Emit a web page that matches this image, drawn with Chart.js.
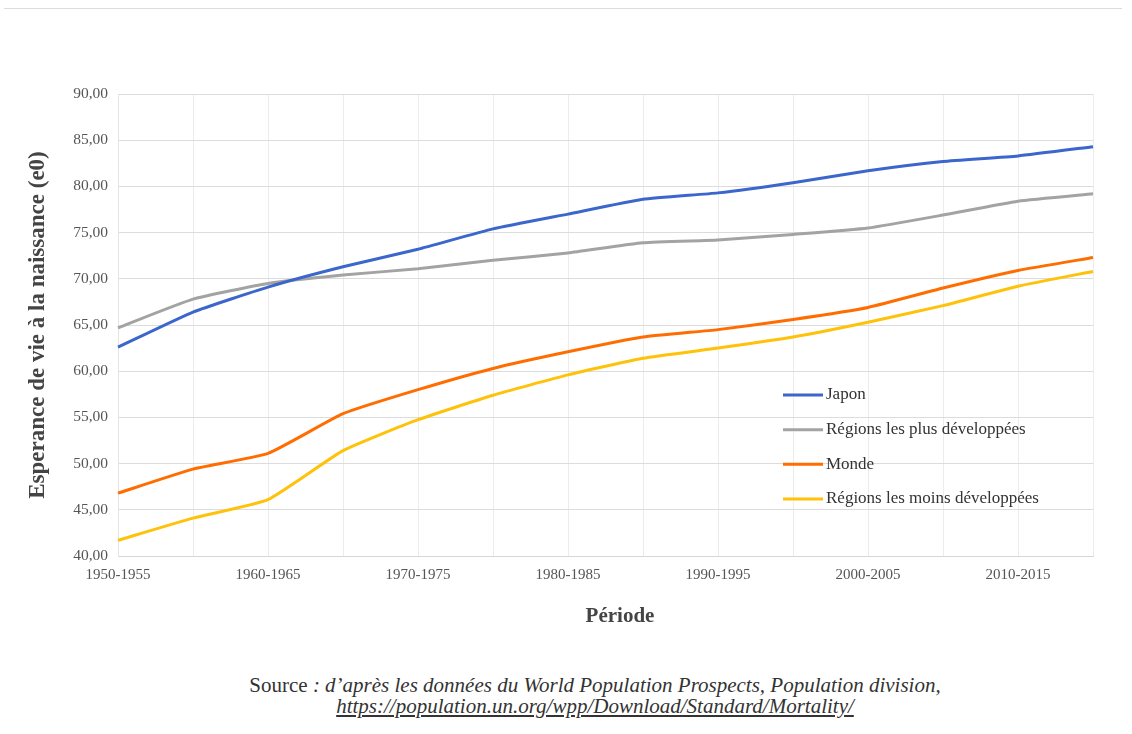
<!DOCTYPE html>
<html>
<head>
<meta charset="utf-8">
<script src="https://cdn.jsdelivr.net/npm/chart.js@4/dist/chart.umd.min.js"></script>
<style>
  html, body { margin: 0; padding: 0; background: #fff; width: 1132px; height: 734px; overflow: hidden; }
  #topline { position: absolute; left: 4px; top: 8px; width: 1118px; height: 0; border-top: 1px solid #dcdcdc; }
  #wrap { position: absolute; left: 0; top: 0; width: 1132px; height: 650px; }
  .src { position: absolute; left: 0; width: 1190px; text-align: center; font-family: "Liberation Serif", serif; font-size: 21px; line-height: 21px; color: #333; }
  .src i { font-style: italic; }
</style>
</head>
<body>
<div id="topline"></div>
<div id="wrap"><canvas id="c" width="1132" height="650"></canvas></div>
<div class="src" style="top:675px;">Source <i>: d’après les données du World Population Prospects, Population division,</i></div>
<div class="src" style="top:696px;"><i style="text-decoration: underline;">https://population.un.org/wpp/Download/Standard/Mortality/</i></div>
<script>
const periods = ["1950-1955","1955-1960","1960-1965","1965-1970","1970-1975","1975-1980","1980-1985","1985-1990","1990-1995","1995-2000","2000-2005","2005-2010","2010-2015","2015-2020"];
const japon = [62.6, 66.4, 69.1, 71.3, 73.2, 75.4, 77.0, 78.6, 79.3, 80.4, 81.7, 82.7, 83.3, 84.3];
const plusDev = [64.7, 67.8, 69.5, 70.4, 71.1, 72.0, 72.8, 73.9, 74.2, 74.8, 75.5, 76.9, 78.4, 79.2];
const monde = [46.8, 49.4, 51.1, 55.4, 58.0, 60.3, 62.1, 63.7, 64.5, 65.6, 66.9, 69.0, 70.9, 72.3];
const moinsDev = [41.7, 44.1, 46.1, 51.4, 54.75, 57.4, 59.6, 61.4, 62.5, 63.7, 65.3, 67.1, 69.2, 70.8];
const seriesNames = ["Japon", "Régions les plus développées", "Monde", "Régions les moins développées"];
const yTitle = "Esperance de vie à la naissance (e0)";
const xTitle = "Période";

const FONT = "'Liberation Serif', 'Times New Roman', serif";
const colors = ["#3b66cc", "#a3a3a3", "#ff6d00", "#ffc20a"];

const legendPlugin = {
  id: 'insideLegend',
  afterDatasetsDraw(chart) {
    const ctx = chart.ctx;
    ctx.save();
    ctx.font = "17px " + FONT;
    ctx.textBaseline = 'middle';
    ctx.textAlign = 'left';
    const ys = [395, 429.7, 464.3, 499];
    chart.data.datasets.forEach((ds, i) => {
      const y = ys[i];
      ctx.strokeStyle = ds.borderColor;
      ctx.lineWidth = 3;
      ctx.beginPath();
      ctx.moveTo(783, y);
      ctx.lineTo(823, y);
      ctx.stroke();
      ctx.fillStyle = "#333";
      ctx.fillText(ds.label, 826, y);
    });
    // x-axis title
    ctx.font = "bold 21px " + FONT;
    ctx.fillStyle = "#444";
    ctx.textAlign = 'center';
    ctx.fillText(xTitle, 620, 617);
    ctx.restore();
  }
};

const datasets = [japon, plusDev, monde, moinsDev].map((d, i) => ({
  label: seriesNames[i],
  data: d,
  borderColor: colors[i],
  backgroundColor: colors[i],
  borderWidth: 3,
  pointRadius: 0,
  tension: 0.15,
  fill: false
}));

new Chart(document.getElementById('c'), {
  type: 'line',
  data: { labels: periods, datasets },
  options: {
    responsive: false,
    animation: false,
    layout: { padding: { left: 18, top: 94, right: 39, bottom: 10 } },
    plugins: { legend: { display: false }, tooltip: { enabled: false } },
    scales: {
      x: {
        offset: false,
        grid: { color: "#ececec", drawTicks: false },
        border: { color: "#d6d6d6" },
        ticks: {
          autoSkip: false, maxRotation: 0, padding: 10,
          color: "#555", font: { family: FONT, size: 15 },
          callback: function(v, i) { return i % 2 === 0 ? periods[i] : ''; }
        },
        title: { display: false },
        afterFit(scale) { scale.height = 84; }
      },
      y: {
        min: 40, max: 90,
        grid: { color: "#dcdcdc", drawTicks: false },
        border: { color: "#e4e4e4" },
        ticks: {
          stepSize: 5, padding: 10, color: "#555", font: { family: FONT, size: 15.5 },
          callback: v => v.toFixed(2).replace('.', ',')
        },
        title: { display: true, text: yTitle, color: "#444", font: { family: FONT, size: 23, weight: 'bold' }, padding: { top: 6, bottom: 0 } },
        afterFit(scale) { scale.width = 100; }
      }
    }
  },
  plugins: [legendPlugin]
});
</script>
</body>
</html>
